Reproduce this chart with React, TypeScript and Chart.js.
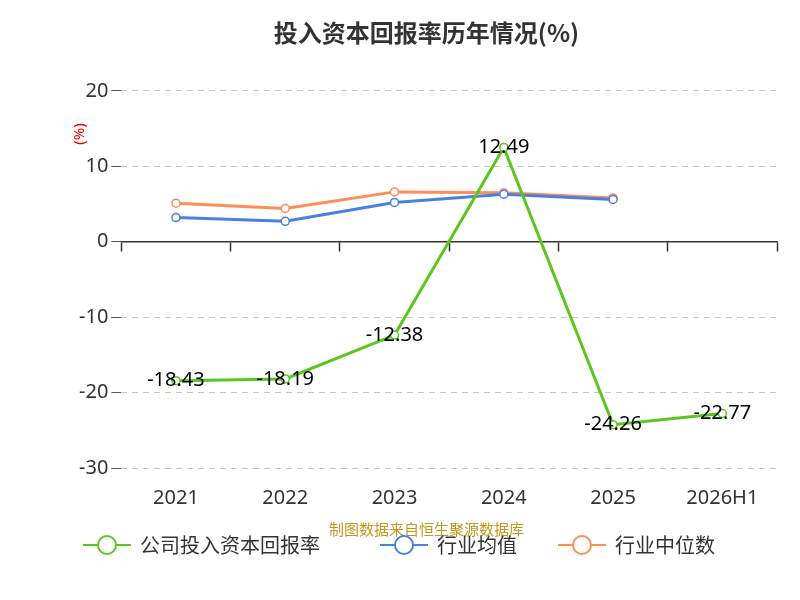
import React, { useEffect, useRef } from "react";
import { Chart, registerables } from "chart.js";
Chart.register(...registerables);

const categories = ["2021", "2022", "2023", "2024", "2025", "2026H1"];
const companyValues = [-18.43, -18.19, -12.38, 12.49, -24.26, -22.77];
const industryAvg = [3.2, 2.7, 5.2, 6.3, 5.6, null];
const industryMedian = [5.1, 4.4, 6.6, 6.5, 5.8, null];
const yTicks = [20, 10, 0, -10, -20, -30];
const legendNames = ["公司投入资本回报率", "行业均值", "行业中位数"];
const colors = ["#5ac61e", "#4a80e0", "#ff8c59"];

const labelPlugin = {
  id: "vals",
  afterDatasetsDraw(chart: any) {
    const ctx = chart.ctx;
    const meta = chart.getDatasetMeta(0);
    ctx.save();
    ctx.font = "20px 'Noto Sans', sans-serif";
    ctx.fillStyle = "#000";
    ctx.textAlign = "center";
    ctx.textBaseline = "middle";
    meta.data.forEach((p: any, i: number) => {
      ctx.fillText(companyValues[i].toFixed(2), p.x, p.y);
    });
    // y title
    ctx.save();
    ctx.translate(72, 126);
    ctx.rotate(-Math.PI / 2);
    ctx.fillStyle = "#e00";
    ctx.font = "15px 'Noto Sans', sans-serif";
    ctx.fillText("(%)", 0, 0);
    ctx.restore();
    // legend
    const xs = [75, 372, 550];
    const y = 537;
    ctx.font = "20px 'Noto Sans CJK SC', sans-serif";
    ctx.textAlign = "left";
    legendNames.forEach((n, i) => {
      const x = xs[i];
      ctx.strokeStyle = colors[i];
      ctx.lineWidth = 2;
      ctx.beginPath(); ctx.moveTo(x, y); ctx.lineTo(x + 48, y); ctx.stroke();
      ctx.beginPath(); ctx.arc(x + 24, y, 9, 0, Math.PI * 2);
      ctx.fillStyle = "#fff"; ctx.fill(); ctx.stroke();
      ctx.fillStyle = "#333";
      ctx.fillText(n, x + 57, y);
    });
    ctx.restore();
  },
};

export default function App() {
  const ref = useRef<HTMLCanvasElement>(null);
  useEffect(() => {
    const mk = (label: string, data: any[], color: string) => ({
      label, data, borderColor: color, backgroundColor: "#fff",
      pointBorderColor: color, pointBackgroundColor: "#fff",
      borderWidth: 3, pointRadius: 4, pointBorderWidth: 1.5, tension: 0,
    });
    const chart = new Chart(ref.current!, {
      type: "line",
      data: {
        labels: categories,
        datasets: [
          mk(legendNames[0], companyValues, colors[0]),
          mk(legendNames[1], industryAvg, colors[1]),
          mk(legendNames[2], industryMedian, colors[2]),
        ],
      },
      options: {
        animation: false,
        responsive: false,
        layout: { padding: { left: 68, right: 15, top: 10, bottom: 62 } },
        plugins: {
          title: {
            display: true, text: "投入资本回报率历年情况(%)", color: "#333",
            font: { size: 24, weight: "bold", family: "'Noto Sans CJK SC'" },
            padding: { top: 0, bottom: 44 },
          },
          subtitle: {
            display: true, position: "bottom", text: "制图数据来自恒生聚源数据库",
            color: "#c8961e", font: { size: 15, family: "'Noto Sans CJK SC'" },
            padding: { top: 0, bottom: 0 },
          },
          legend: { display: false },
          tooltip: { enabled: false },
        },
        scales: {
          x: {
            offset: true,
            grid: { display: false },
            border: { display: false },
            ticks: { color: "#333", font: { size: 20, family: "'Noto Sans'" }, padding: 10 },
          },
          x2: {
            type: "category", labels: categories, position: { y: 0 } as any,
            offset: true,
            grid: { drawOnChartArea: false, offset: true, tickLength: 9, color: "#333", tickWidth: 1.5 } as any,
            border: { display: true, color: "#333", width: 1.5 },
            ticks: { display: false },
          },
          y: {
            min: -30, max: 20,
            afterBuildTicks: (s: any) => { s.ticks = yTicks.map((v) => ({ value: v })); },
            grid: {
              color: (c: any) => (c.tick && c.tick.value === 0 ? "rgba(0,0,0,0)" : "#c8c8c8"),
              tickLength: 10, tickColor: "#555",
            } as any,
            border: { display: false, dash: [6, 5] },
            ticks: { color: "#333", font: { size: 20, family: "'Noto Sans'" } },
          },
        },
      } as any,
      plugins: [labelPlugin],
    });
    return () => chart.destroy();
  }, []);
  return <canvas ref={ref} width={784} height={592} style={{ display: "block" }} />;
}
